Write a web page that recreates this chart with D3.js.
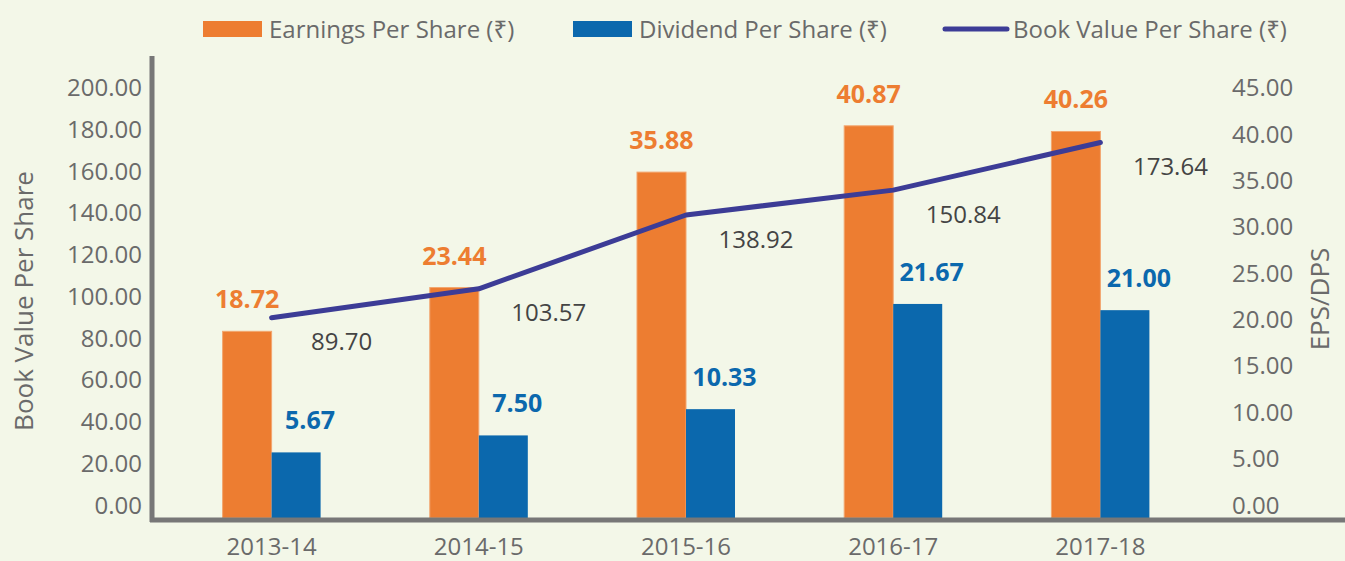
<!DOCTYPE html>
<html>
<head>
<meta charset="utf-8">
<script src="https://cdn.jsdelivr.net/npm/d3@7"></script>
<style>
  html, body { margin: 0; padding: 0; background: #f3f7e8; }
  svg { display: block; font-family: "Open Sans", "Noto Sans", "DejaVu Sans", sans-serif; }
</style>
</head>
<body>
<svg id="chart" width="1345" height="561"></svg>
<script>
// chart data
var years = ["2013-14", "2014-15", "2015-16", "2016-17", "2017-18"];
var eps = [18.72, 23.44, 35.88, 40.87, 40.26];
var dps = [5.67, 7.50, 10.33, 21.67, 21.00];
var bookValue = [89.70, 103.57, 138.92, 150.84, 173.64];
var leftTicks = [0, 20, 40, 60, 80, 100, 120, 140, 160, 180, 200];
var rightTicks = [0, 5, 10, 15, 20, 25, 30, 35, 40, 45];
var legendLabels = ["Earnings Per Share (\u20b9)", "Dividend Per Share (\u20b9)", "Book Value Per Share (\u20b9)"];

var orange = "#ed7d31",
    blue = "#0b68ad",
    navy = "#3c3c96",
    axisGray = "#777777",
    textGray = "#6a6a6a";

var svg = d3.select("#chart");
var width = 1345, height = 561;

svg.append("rect").attr("width", width).attr("height", height).attr("fill", "#f3f7e8");

var x = d3.scaleBand().domain(years).range([168, 1204]);
var yLeft = d3.scaleLinear().domain([0, 200]).range([505, 87.5]);
var yRight = d3.scaleLinear().domain([0, 45]).range([505, 87.5]);
var baseY = 518;

var groupW = x.bandwidth() * 0.473;
var sub = d3.scaleBand().domain(["eps", "dps"]).range([0, groupW]);
function groupX(d) { return x(d) + (x.bandwidth() - groupW) / 2; }

// bars
svg.append("g").selectAll("rect")
    .data(years)
    .join("rect")
    .attr("x", function(d) { return groupX(d) + sub("eps"); })
    .attr("y", function(d, i) { return yRight(eps[i]); })
    .attr("width", sub.bandwidth())
    .attr("height", function(d, i) { return baseY - yRight(eps[i]); })
    .attr("fill", orange)
    .attr("stroke", "#f2a66f")
    .attr("stroke-width", 1);

svg.append("g").selectAll("rect")
    .data(years)
    .join("rect")
    .attr("x", function(d) { return groupX(d) + sub("dps"); })
    .attr("y", function(d, i) { return yRight(dps[i]); })
    .attr("width", sub.bandwidth())
    .attr("height", function(d, i) { return baseY - yRight(dps[i]); })
    .attr("fill", blue);

// axes lines
svg.append("line")
    .attr("x1", 152).attr("x2", 152).attr("y1", 56).attr("y2", 522)
    .attr("stroke", axisGray).attr("stroke-width", 5);
svg.append("line")
    .attr("x1", 150).attr("x2", width).attr("y1", 520).attr("y2", 520)
    .attr("stroke", axisGray).attr("stroke-width", 5);

// tick labels
var fmt = d3.format(".2f");
svg.append("g").selectAll("text")
    .data(leftTicks)
    .join("text")
    .attr("x", 142)
    .attr("y", function(d) { return yLeft(d); })
    .attr("dy", "0.36em")
    .attr("text-anchor", "end")
    .attr("font-size", 24)
    .attr("fill", textGray)
    .text(fmt);

svg.append("g").selectAll("text")
    .data(rightTicks)
    .join("text")
    .attr("x", 1232)
    .attr("y", function(d) { return yRight(d); })
    .attr("dy", "0.36em")
    .attr("text-anchor", "start")
    .attr("font-size", 24)
    .attr("fill", textGray)
    .text(fmt);

svg.append("g").selectAll("text")
    .data(years)
    .join("text")
    .attr("x", function(d) { return x(d) + x.bandwidth() / 2; })
    .attr("y", 555)
    .attr("text-anchor", "middle")
    .attr("font-size", 24)
    .attr("fill", textGray)
    .text(function(d) { return d; });

// axis titles
svg.append("text")
    .attr("transform", "translate(33,301) rotate(-90)")
    .attr("text-anchor", "middle")
    .attr("font-size", 26)
    .attr("fill", textGray)
    .text("Book Value Per Share");
svg.append("text")
    .attr("transform", "translate(1329,299) rotate(-90)")
    .attr("text-anchor", "middle")
    .attr("font-size", 26)
    .attr("fill", textGray)
    .text("EPS/DPS");

// book value line
var line = d3.line()
    .x(function(d, i) { return x(years[i]) + x.bandwidth() / 2; })
    .y(function(d) { return yLeft(d); });
svg.append("path")
    .datum(bookValue)
    .attr("d", line)
    .attr("fill", "none")
    .attr("stroke", navy)
    .attr("stroke-width", 5)
    .attr("stroke-linecap", "round")
    .attr("stroke-linejoin", "round");

// value labels
svg.append("g").selectAll("text")
    .data(eps)
    .join("text")
    .attr("x", function(d, i) { return groupX(years[i]) + sub("eps") + sub.bandwidth() / 2; })
    .attr("y", function(d) { return yRight(d) - 23; })
    .attr("text-anchor", "middle")
    .attr("font-size", 25)
    .attr("font-weight", "bold")
    .attr("fill", orange)
    .text(fmt);

svg.append("g").selectAll("text")
    .data(dps)
    .join("text")
    .attr("x", function(d, i) { return groupX(years[i]) + sub("dps") + sub.bandwidth() / 2 + 14; })
    .attr("y", function(d) { return yRight(d) - 23; })
    .attr("text-anchor", "middle")
    .attr("font-size", 25)
    .attr("font-weight", "bold")
    .attr("fill", blue)
    .text(fmt);

svg.append("g").selectAll("text")
    .data(bookValue)
    .join("text")
    .attr("x", function(d, i) { return x(years[i]) + x.bandwidth() / 2 + 70; })
    .attr("y", function(d) { return yLeft(d) + 24; })
    .attr("dy", "0.36em")
    .attr("text-anchor", "middle")
    .attr("font-size", 24)
    .attr("fill", "#444444")
    .text(fmt);

// legend
var legend = svg.append("g");
var legendX = [203, 573, 945];
legend.append("rect").attr("x", legendX[0]).attr("y", 21).attr("width", 59).attr("height", 16).attr("fill", orange);
legend.append("rect").attr("x", legendX[1]).attr("y", 21).attr("width", 59).attr("height", 16).attr("fill", blue);
legend.append("line").attr("x1", legendX[2]).attr("x2", legendX[2] + 62).attr("y1", 29).attr("y2", 29)
    .attr("stroke", navy).attr("stroke-width", 5).attr("stroke-linecap", "round");
legend.selectAll("text")
    .data(legendLabels)
    .join("text")
    .attr("x", function(d, i) { return legendX[i] + (i == 2 ? 68 : 66); })
    .attr("y", 29)
    .attr("dy", "0.36em")
    .attr("font-size", 24)
    .attr("fill", textGray)
    .text(function(d) { return d; });
</script>
</body>
</html>
